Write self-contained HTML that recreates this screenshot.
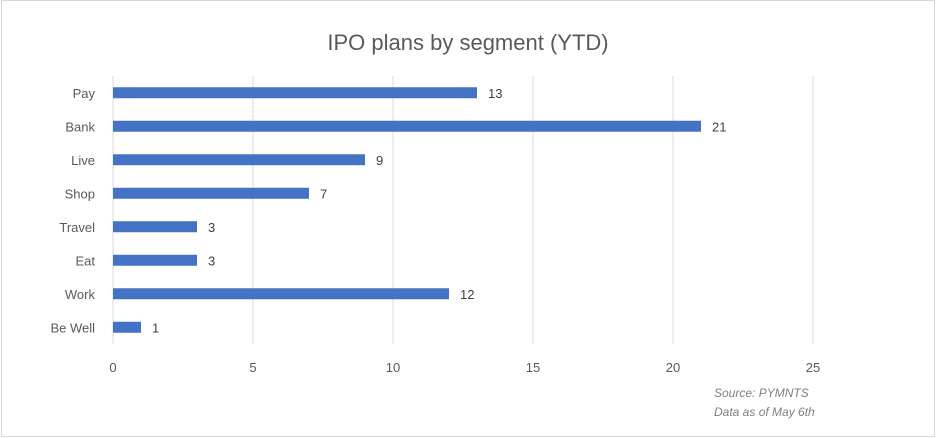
<!DOCTYPE html>
<html><head><meta charset="utf-8"><style>
body{margin:0;background:#fff;font-family:"Liberation Sans",sans-serif}
svg{display:block}
</style></head><body>
<svg id="c" width="936" height="438">
<rect x="1.5" y="0.5" width="933" height="436" fill="#fff" stroke="#d9d9d9"/>
<text x="468" y="50" text-anchor="middle" font-size="22" fill="#595959">IPO plans by segment (YTD)</text>
<g id="grid"></g><g id="bars"></g>
<text x="714" y="397" font-size="12" font-style="italic" fill="#808080">Source: PYMNTS</text>
<text x="714" y="416" font-size="12" font-style="italic" fill="#808080">Data as of May 6th</text>
</svg>
<script>
const categories=["Pay","Bank","Live","Shop","Travel","Eat","Work","Be Well"];
const values=[13,21,9,7,3,3,12,1];
const ticks=[0,5,10,15,20,25];
const NS="http://www.w3.org/2000/svg";
const x0=113,pxu=28,plotTop=76,plotBottom=344,band=(plotBottom-plotTop)/categories.length;
const xs=v=>x0+v*pxu;
function mk(t,a,p,txt){const e=document.createElementNS(NS,t);for(const k in a)e.setAttribute(k,a[k]);if(txt!=null)e.textContent=txt;p.appendChild(e);return e;}
const g=document.getElementById('grid'),b=document.getElementById('bars');
ticks.forEach(t=>{
 const l=mk('line',{x1:xs(t),x2:xs(t),y1:plotTop,y2:plotBottom,stroke:'#d9d9d9','stroke-width':1},g);
 
 
 const tx=mk('text',{x:xs(t),y:372,'text-anchor':'middle','font-size':13,fill:'#595959'},g,String(t));
 
 
});
categories.forEach((c,i)=>{
 const cy=plotTop+band*(i+0.5);
 const r=mk('rect',{x:x0,y:cy-5.5,width:values[i]*pxu,height:11,fill:'#4472c4'},b);
 
 
 const lb=mk('text',{x:95,y:cy+5,'text-anchor':'end','font-size':13,fill:'#595959'},b,c);
 
 
 const v=mk('text',{x:xs(values[i])+11,y:cy+5,'font-size':13,fill:'#404040'},b,String(values[i]));
 
 
});
</script>
</body></html>
